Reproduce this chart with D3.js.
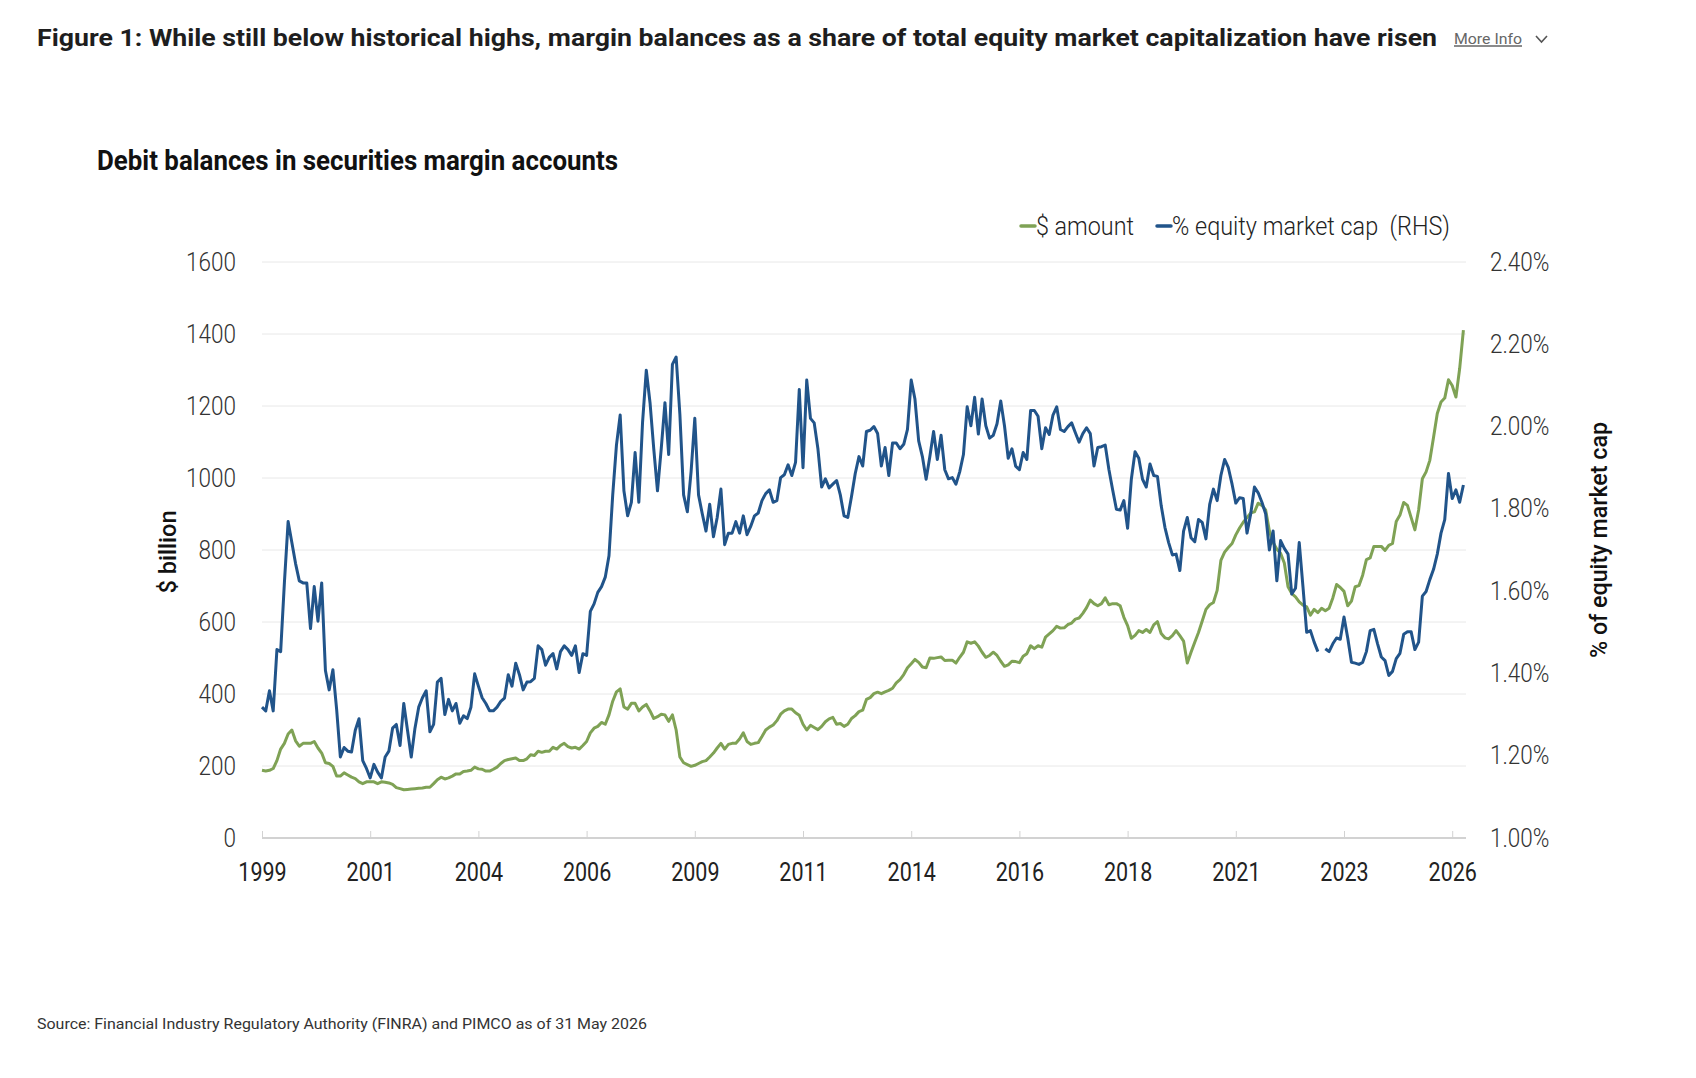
<!DOCTYPE html>
<html><head><meta charset="utf-8">
<script src="https://cdn.jsdelivr.net/npm/d3@7"></script>
<style>
body{margin:0;background:#fff;}
svg{display:block;font-family:Roboto,"Open Sans",Arial,sans-serif;}
</style>
</head><body>
<svg id="c" width="1696" height="1078"></svg>
<script>
// Monthly observations, Jul 1999 .. May 2026
const startMonth = new Date(1999, 6, 1);
const amountBn = [
188,186,188,193,215,247,263,289,300,270,
255,263,263,263,268,250,236,209,207,199,
172,172,181,175,169,165,156,151,156,156,
156,151,156,155,153,149,140,137,134,135,
136,137,138,139,141,141,151,162,169,164,
167,172,178,178,185,186,188,197,192,191,
186,186,191,197,207,215,218,220,222,215,
215,220,231,229,241,238,241,241,252,247,
257,263,254,250,252,247,257,268,292,305,
310,321,316,342,380,406,414,364,358,374,
374,353,364,371,353,332,337,344,342,324,
342,300,225,209,204,199,202,207,212,215,
225,236,250,263,247,260,263,263,275,292,
268,260,263,265,282,300,308,314,326,344,
353,358,358,348,341,316,300,313,307,301,
310,323,331,335,316,318,310,316,332,340,
351,355,385,390,401,405,401,406,410,416,
431,440,454,473,484,496,488,475,473,500,
499,501,503,493,494,494,486,502,516,545,
541,545,533,516,502,507,516,507,491,477,
481,491,490,487,505,512,534,526,534,530,
558,567,576,588,583,584,593,597,608,611,
624,640,661,651,645,651,667,648,651,651,
645,613,590,555,563,576,571,579,571,592,
601,568,556,553,562,576,562,547,486,516,
544,571,603,635,648,654,688,771,794,807,
818,842,861,877,890,903,906,930,924,911,
853,821,802,791,764,698,679,670,656,647,
642,619,635,626,638,631,638,667,704,696,
685,645,658,698,701,730,773,778,810,810,
810,799,813,818,879,897,932,924,890,856,
911,998,1017,1049,1113,1179,1211,1222,1273,1257,
1225,1304,1411
];
const pctMarketCap = [
1.318,1.309,1.358,1.309,1.458,1.453,1.620,1.769,1.718,1.667,
1.625,1.620,1.620,1.509,1.611,1.527,1.620,1.407,1.360,1.409,
1.313,1.197,1.220,1.211,1.209,1.262,1.290,1.188,1.169,1.146,
1.179,1.160,1.146,1.197,1.211,1.267,1.276,1.225,1.327,1.262,
1.197,1.267,1.318,1.341,1.358,1.258,1.276,1.379,1.388,1.300,
1.337,1.309,1.327,1.279,1.297,1.290,1.318,1.399,1.369,1.341,
1.327,1.309,1.309,1.318,1.332,1.340,1.397,1.369,1.425,1.397,
1.360,1.379,1.380,1.388,1.467,1.458,1.420,1.439,1.448,1.411,
1.453,1.467,1.458,1.444,1.467,1.402,1.448,1.444,1.551,1.569,
1.597,1.611,1.634,1.686,1.834,1.955,2.028,1.844,1.783,1.816,
1.937,1.816,2.011,2.137,2.058,1.946,1.844,1.946,2.058,1.932,
2.151,2.169,2.030,1.834,1.793,1.890,2.020,1.834,1.788,1.746,
1.811,1.732,1.779,1.848,1.713,1.741,1.741,1.769,1.741,1.783,
1.737,1.758,1.783,1.790,1.820,1.837,1.846,1.816,1.820,1.876,
1.883,1.907,1.881,1.913,2.090,1.900,2.113,2.020,2.009,1.946,
1.853,1.873,1.851,1.860,1.869,1.834,1.783,1.779,1.830,1.886,
1.927,1.904,1.988,1.991,2.000,1.983,1.904,1.949,1.881,1.960,
1.960,1.946,1.957,1.993,2.113,2.067,1.965,1.927,1.872,1.927,
1.988,1.920,1.979,1.895,1.873,1.876,1.860,1.890,1.932,2.048,
2.002,2.071,1.982,2.067,2.002,1.972,1.979,2.007,2.062,2.002,
1.923,1.946,1.904,1.895,1.937,1.920,2.039,2.039,2.025,1.946,
1.997,1.981,2.028,2.048,1.993,1.988,2.000,2.009,1.985,1.962,
1.983,1.997,1.983,1.904,1.949,1.951,1.955,1.895,1.846,1.799,
1.797,1.820,1.753,1.872,1.939,1.923,1.872,1.853,1.909,1.881,
1.879,1.808,1.755,1.718,1.688,1.690,1.650,1.746,1.779,1.730,
1.720,1.774,1.767,1.727,1.811,1.848,1.820,1.881,1.920,1.900,
1.860,1.814,1.827,1.825,1.741,1.788,1.853,1.839,1.816,1.788,
1.700,1.746,1.625,1.723,1.704,1.690,1.593,1.607,1.718,1.611,
1.500,1.504,1.476,1.453,null,1.460,1.453,1.472,1.486,1.483,
1.537,1.486,1.427,1.425,1.422,1.427,1.453,1.504,1.507,1.472,
1.440,1.431,1.395,1.405,1.436,1.449,1.495,1.501,1.501,1.458,
1.476,1.588,1.599,1.628,1.653,1.690,1.741,1.774,1.886,1.825,
1.846,1.816,1.858
];
const months = amountBn.map((_, i) => d3.timeMonth.offset(startMonth, i));
const xTickIndex = [0,29,58,87,116,145,174,203,232,261,290,319];
const xTickLabels = ["1999","2001","2004","2006","2009","2011","2014","2016","2018","2021","2023","2026"];
const leftTicks = [0,200,400,600,800,1000,1200,1400,1600];
const rightTicks = [1.0,1.2,1.4,1.6,1.8,2.0,2.2,2.4];
const seriesNames = ["$ amount", "% equity market cap  (RHS)"];
const colors = {amount:"#7fa255", pct:"#21548a"};

const svg = d3.select("#c");
const L = 262, R = 1466, T = 262, B = 838;
const x = d3.scaleLinear().domain([0, amountBn.length - 1]).range([L, 1463.4]);
const yL = d3.scaleLinear().domain([0, 1600]).range([B, T]);
const yR = d3.scaleLinear().domain([1.0, 2.4]).range([B, T]);

function squeeze(sel, f){
  sel.each(function(){
    const w = this.getComputedTextLength();
    d3.select(this).attr("textLength", w * f).attr("lengthAdjust", "spacingAndGlyphs");
  });
}
function fitW(sel, w){ sel.attr("textLength", w).attr("lengthAdjust", "spacingAndGlyphs"); }

// Header
fitW(svg.append("text").attr("x", 37).attr("y", 38).attr("dy", "0.35em")
  .attr("font-size", 24).attr("font-weight", 700).attr("fill", "#1e1e1e")
  .text("Figure 1: While still below historical highs, margin balances as a share of total equity market capitalization have risen"), 1400);
fitW(svg.append("text").attr("x", 1454).attr("y", 39).attr("dy", "0.35em")
  .attr("font-size", 15).attr("fill", "#666").attr("text-decoration", "underline")
  .text("More Info"), 68);
svg.append("path").attr("d", "M1536,36 L1541.5,42 L1547,36").attr("fill", "none")
  .attr("stroke", "#555").attr("stroke-width", 1.6);

fitW(svg.append("text").attr("x", 97).attr("y", 160).attr("dy", "0.35em")
  .attr("font-size", 28).attr("font-weight", 700).attr("fill", "#111")
  .text("Debit balances in securities margin accounts"), 521);

// Grid
svg.append("g").selectAll("line").data(leftTicks.filter(d => d > 0)).join("line")
  .attr("x1", L).attr("x2", R).attr("y1", d => yL(d)).attr("y2", d => yL(d))
  .attr("stroke", "#e8e8e8").attr("stroke-width", 1);
svg.append("line").attr("x1", L).attr("x2", R).attr("y1", B).attr("y2", B)
  .attr("stroke", "#d2d2d2").attr("stroke-width", 2);

// X axis
const gx = svg.append("g").attr("transform", `translate(0,${B})`)
  .call(d3.axisBottom(x).tickValues(xTickIndex).tickFormat((d, i) => xTickLabels[i]).tickSize(-7));
gx.select(".domain").remove();
gx.selectAll(".tick line").attr("stroke", "#d2d2d2").attr("stroke-width", 1);
gx.selectAll(".tick text").attr("y", 34).attr("dy", "0.35em")
  .attr("font-size", 25).attr("font-family", "Roboto").attr("fill", "#222");
squeeze(gx.selectAll(".tick text"), 0.86);

// Left axis
const gl = svg.append("g").attr("transform", `translate(${L},0)`)
  .call(d3.axisLeft(yL).tickValues(leftTicks).tickSize(0).tickPadding(26).tickFormat(d3.format("d")));
gl.select(".domain").remove();
gl.selectAll(".tick text").attr("font-size", 25).attr("font-weight", 300)
  .attr("font-family", "Roboto").attr("fill", "#333");
squeeze(gl.selectAll(".tick text"), 0.9);

// Right axis
const gr = svg.append("g").attr("transform", `translate(${R},0)`)
  .call(d3.axisRight(yR).tickValues(rightTicks).tickSize(0).tickPadding(24)
    .tickFormat(d => d3.format(".2f")(d) + "%"));
gr.select(".domain").remove();
gr.selectAll(".tick text").attr("font-size", 25).attr("font-weight", 300)
  .attr("font-family", "Roboto").attr("fill", "#333");
squeeze(gr.selectAll(".tick text"), 0.9);

// Axis titles
fitW(svg.append("text").attr("transform", "translate(168,552) rotate(-90)")
  .attr("text-anchor", "middle").attr("dy", "0.35em").attr("font-size", 24)
  .attr("font-weight", 500).attr("fill", "#111").text("$ billion"), 83);
fitW(svg.append("text").attr("transform", "translate(1599,540) rotate(-90)")
  .attr("text-anchor", "middle").attr("dy", "0.35em").attr("font-size", 24)
  .attr("font-weight", 500).attr("fill", "#111").text("% of equity market cap"), 236);

// Lines
const lineL = d3.line().defined(d => d != null).x((d, i) => x(i)).y(d => yL(d));
const lineR = d3.line().defined(d => d != null).x((d, i) => x(i)).y(d => yR(d));
svg.append("path").datum(amountBn).attr("d", lineL).attr("fill", "none")
  .attr("stroke", colors.amount).attr("stroke-width", 3).attr("stroke-linejoin", "round");
svg.append("path").datum(pctMarketCap).attr("d", lineR).attr("fill", "none")
  .attr("stroke", colors.pct).attr("stroke-width", 3).attr("stroke-linejoin", "round");

// Legend
const legend = [
  {name: seriesNames[0], color: colors.amount, x1: 1021, w: 98},
  {name: seriesNames[1], color: colors.pct, x1: 1157, w: 278}
];
legend.forEach(l => {
  svg.append("line").attr("x1", l.x1).attr("x2", l.x1 + 14).attr("y1", 226).attr("y2", 226)
    .attr("stroke", l.color).attr("stroke-width", 3.5).attr("stroke-linecap", "round");
  fitW(svg.append("text").attr("x", l.x1 + 15).attr("y", 226).attr("dy", "0.35em")
    .attr("font-size", 25).attr("font-weight", 300).attr("fill", "#222")
    .style("white-space", "pre").text(l.name), l.w);
});

// Source
fitW(svg.append("text").attr("x", 37).attr("y", 1024).attr("dy", "0.35em")
  .attr("font-size", 15).attr("fill", "#333")
  .text("Source: Financial Industry Regulatory Authority (FINRA) and PIMCO as of 31 May 2026"), 610);
</script>
</body></html>
